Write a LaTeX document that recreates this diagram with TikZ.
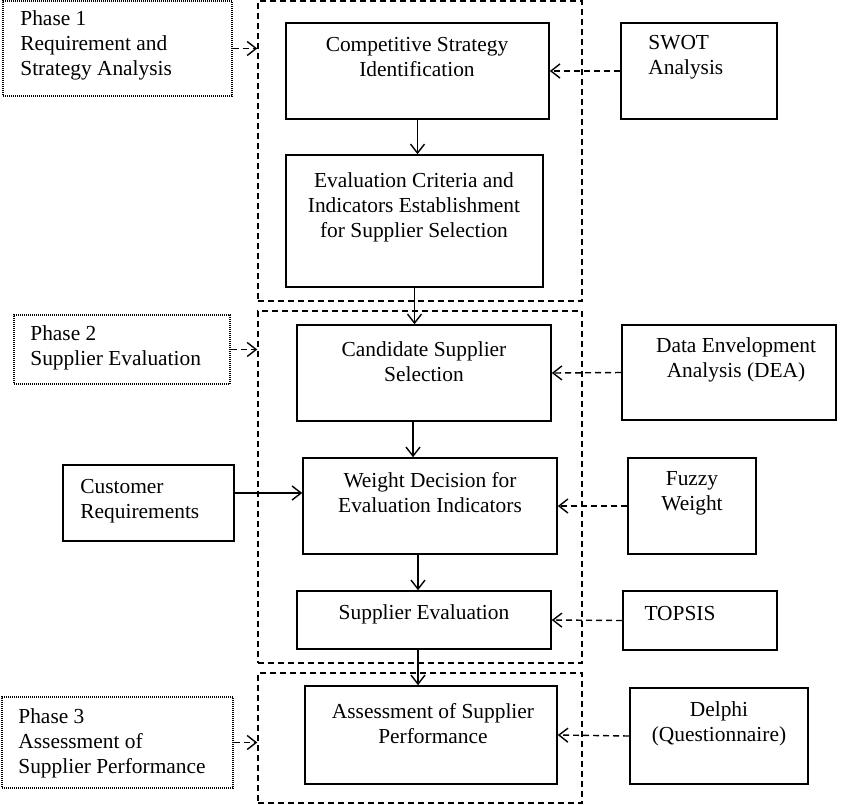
\documentclass[tikz,border=0pt]{standalone}
\usepackage{fontspec}
\setmainfont{Liberation Serif}
\usepackage{tikz}
\usetikzlibrary{arrows.meta}

\begin{document}
\begin{tikzpicture}[x=0.5pt,y=-0.5pt,
    every node/.style={font=\fontsize{10.7}{12.5}\selectfont},
    box/.style={draw, line width=0.8pt, inner sep=0pt},
    frame/.style={draw, dash pattern=on 3pt off 2pt, line width=0.7pt, inner sep=0pt},
    phase/.style={draw, dash pattern=on 0.5pt off 0.5pt, line width=0.6pt, inner sep=0pt},
    sz/.style 2 args={minimum width=#1*0.5pt, minimum height=#2*0.5pt},
    txt/.style={align=center, inner sep=0pt},
    arr/.style={-{Straight Barb[length=4.5pt,width=7pt]}, line width=0.7pt},
    darr/.style={arr, dash pattern=on 3pt off 2pt}]
  \useasboundingbox (0,0) rectangle (850,804);

  % phase 1
  \node[frame, sz={324}{300}] (c1) at (420,151) {};
  \node[phase, sz={229}{95}] (p1) at (117.5,48.5) {};
  \node[txt, anchor=west, align=left] (p1T) at (20,45)
  {Phase 1\\Requirement and\\Strategy Analysis};
  \node[box, sz={263}{96}] (cs) at (417.5,71) {};
  \node[txt] (csT) at (417,57) {Competitive Strategy\\Identification};
  \node[box, sz={257}{132}] (ev) at (414.5,221) {};
  \node[txt] (evT) at (414,207)
  {Evaluation Criteria and\\Indicators Establishment\\for Supplier Selection};
  \node[box, sz={156}{96}] (swot) at (699,71) {};
  \node[txt, anchor=west, align=left] (swotT) at (648,57) {SWOT\\Analysis};

  % phase 2
  \node[frame, sz={324}{352}] (c2) at (420,487) {};
  \node[phase, sz={216}{69}] (p2) at (122,349.5) {};
  \node[txt, anchor=west, align=left] (p2T) at (30,348)
  {Phase 2\\Supplier Evaluation};
  \node[box, sz={254}{96}] (cand) at (424,373) {};
  \node[txt] (candT) at (424,362) {Candidate Supplier\\Selection};
  \node[box, sz={214}{95}] (dea) at (729,372.5) {};
  \node[txt] (deaT) at (736,360) {Data Envelopment\\Analysis (DEA)};
  \node[box, sz={171}{76}] (cr) at (148.5,503) {};
  \node[txt, anchor=west, align=left] (crT) at (80,501)
  {Customer\\Requirements};
  \node[box, sz={254}{96}] (wd) at (430,506) {};
  \node[txt] (wdT) at (430,493) {Weight Decision for\\Evaluation Indicators};
  \node[box, sz={128}{96}] (fw) at (692,506) {};
  \node[txt] (fwT) at (692,493) {Fuzzy\\Weight};
  \node[box, sz={254}{58}] (se) at (424,620) {};
  \node[txt] (seT) at (424,614) {Supplier Evaluation};
  \node[box, sz={154}{59}] (tp) at (700,620.5) {};
  \node[txt] (tpT) at (680,614) {TOPSIS};

  % phase 3
  \node[frame, sz={324}{130}] (c3) at (420,738) {};
  \node[phase, sz={231}{91}] (p3) at (117.5,742.5) {};
  \node[txt, anchor=west, align=left] (p3T) at (18,743)
  {Phase 3\\Assessment of\\Supplier Performance};
  \node[box, sz={252}{98}] (ae) at (431,735) {};
  \node[txt] (aeT) at (433,724) {Assessment of Supplier\\Performance};
  \node[box, sz={178}{96}] (dl) at (719,736) {};
  \node[txt] (dlT) at (719,724) {Delphi\\(Questionnaire)};

  % main flow
  \draw[arr] (cs.south) -- (cs.south |- ev.north);
  \draw[arr] (ev.south) -- (ev.south |- cand.north);
  \draw[arr] ([xshift=-5.5pt]cand.south) -- ([xshift=-5.5pt]cand.south |- wd.north);
  \draw[arr] ([xshift=-6pt]wd.south) -- ([xshift=-6pt]wd.south |- se.north);
  \draw[arr] ([xshift=-3pt]se.south) -- ([xshift=-3pt]se.south |- ae.north);
  \draw[arr] ([yshift=5pt]cr.east) -- ([yshift=5pt]cr.east -| wd.west);

  % methods
  \draw[darr] (swot.west) -- (cs.east);
  \draw[darr] (dea.west) -- (cand.east);
  \draw[darr] (fw.west) -- (wd.east);
  \draw[darr] (tp.west) -- (se.east);
  \draw[darr] (dl.west) -- (ae.east);

  % phases
  \draw[darr] (p1.east) -- (p1.east -| c1.west);
  \draw[darr] (p2.east) -- (p2.east -| c2.west);
  \draw[darr] (p3.east) -- (p3.east -| c3.west);
\end{tikzpicture}
\end{document}
